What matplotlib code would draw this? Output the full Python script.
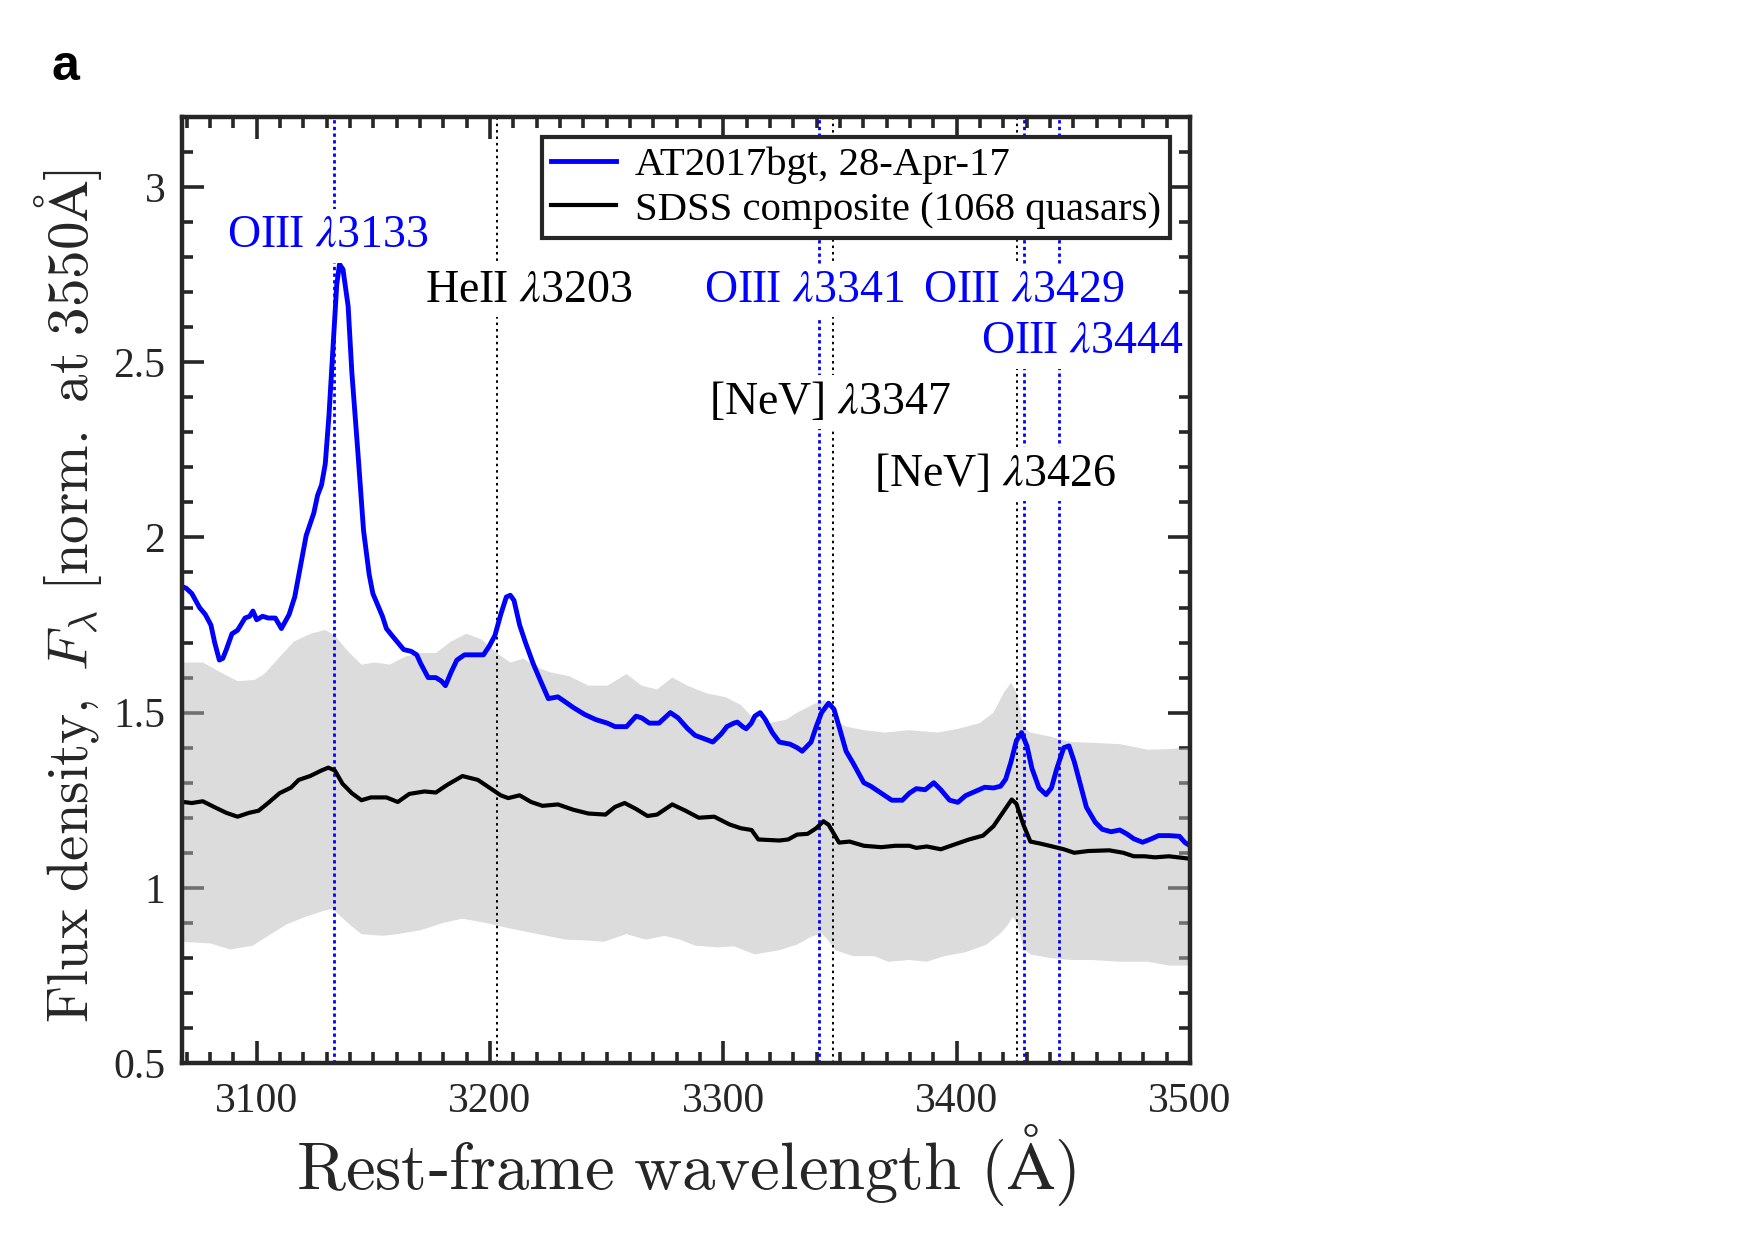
import numpy as np
import matplotlib
matplotlib.use("Agg")
import matplotlib.pyplot as plt
from matplotlib.ticker import MultipleLocator

# ---------------- data ----------------
blue_wl = [3068.0, 3069.8, 3072.2, 3075.5, 3078.0, 3080.4, 3082.0, 3084.0, 3085.5, 3087.0,
           3089.4, 3091.8, 3095.0, 3097.0, 3098.4, 3100.0, 3102.5, 3105.0, 3108.0, 3110.6,
           3113.9, 3116.3, 3118.8, 3121.2, 3124.5, 3126.1, 3127.8, 3129.4, 3131.0, 3132.7,
           3134.3, 3135.5, 3137.0, 3139.2, 3140.8, 3143.3, 3145.8, 3148.2, 3149.8, 3152.3,
           3153.9, 3155.6, 3158.0, 3160.5, 3163.0, 3166.2, 3168.6, 3170.3, 3173.5, 3176.8,
           3179.2, 3180.9, 3183.3, 3185.8, 3189.1, 3193.1, 3197.2, 3199.7, 3202.1, 3204.6,
           3207.0, 3208.7, 3210.3, 3212.7, 3215.2, 3218.5, 3221.7, 3225.0, 3229.1, 3232.4,
           3235.6, 3240.5, 3245.4, 3250.3, 3253.6, 3258.5, 3262.6, 3265.0, 3268.3, 3272.4,
           3277.3, 3280.6, 3284.6, 3287.9, 3292.0, 3295.5, 3299.2, 3301.5, 3304.5, 3306.0,
           3308.3, 3309.8, 3312.0, 3313.5, 3315.8, 3318.0, 3321.0, 3324.0, 3328.6, 3331.6,
           3333.8, 3335.3, 3337.6, 3339.8, 3342.1, 3345.1, 3347.4, 3349.6, 3352.6, 3355.6,
           3360.2, 3363.2, 3367.7, 3372.2, 3376.7, 3379.7, 3382.7, 3386.5, 3390.2, 3393.2,
           3397.0, 3400.5, 3403.8, 3408.3, 3412.0, 3415.8, 3418.8, 3421.0, 3423.3, 3425.6,
           3427.8, 3430.1, 3432.3, 3435.3, 3438.3, 3440.6, 3442.9, 3445.9, 3448.1, 3450.4,
           3453.4, 3455.6, 3459.4, 3462.4, 3466.2, 3469.9, 3472.9, 3475.9, 3479.7, 3483.5,
           3486.5, 3491.0, 3495.5, 3497.7, 3500.0]
blue_flux = [1.86, 1.855, 1.84, 1.80, 1.78, 1.75, 1.70, 1.65, 1.655, 1.68,
             1.725, 1.735, 1.77, 1.775, 1.79, 1.765, 1.775, 1.77, 1.77, 1.74,
             1.78, 1.83, 1.92, 2.005, 2.07, 2.12, 2.15, 2.21, 2.35, 2.54,
             2.72, 2.78, 2.765, 2.66, 2.47, 2.25, 2.02, 1.895, 1.84, 1.80,
             1.775, 1.74, 1.72, 1.70, 1.68, 1.675, 1.665, 1.64, 1.60, 1.60,
             1.59, 1.577, 1.615, 1.65, 1.665, 1.665, 1.665, 1.69, 1.72, 1.78,
             1.83, 1.835, 1.82, 1.75, 1.70, 1.64, 1.59, 1.54, 1.545, 1.53,
             1.515, 1.495, 1.48, 1.47, 1.46, 1.46, 1.49, 1.485, 1.47, 1.47,
             1.50, 1.485, 1.455, 1.435, 1.425, 1.416, 1.44, 1.46, 1.47, 1.473,
             1.46, 1.454, 1.47, 1.49, 1.50, 1.48, 1.443, 1.416, 1.41, 1.40,
             1.39, 1.40, 1.416, 1.46, 1.50, 1.527, 1.51, 1.46, 1.39, 1.356,
             1.30, 1.29, 1.27, 1.25, 1.25, 1.27, 1.283, 1.28, 1.30, 1.28,
             1.25, 1.244, 1.263, 1.276, 1.287, 1.285, 1.29, 1.31, 1.36, 1.42,
             1.443, 1.405, 1.34, 1.285, 1.266, 1.285, 1.34, 1.40, 1.405, 1.36,
             1.285, 1.23, 1.187, 1.167, 1.16, 1.165, 1.154, 1.14, 1.13, 1.14,
             1.149, 1.149, 1.147, 1.13, 1.12]

sdss_wl = [3068.0, 3069.8, 3072.2, 3076.9, 3082.0, 3087.0, 3091.8, 3096.7, 3100.8, 3104.9,
           3109.8, 3114.7, 3118.0, 3122.9, 3127.8, 3130.7, 3133.5, 3136.8, 3140.8, 3144.9,
           3149.0, 3155.6, 3160.5, 3165.4, 3171.9, 3176.8, 3181.7, 3188.2, 3194.8, 3199.7,
           3204.6, 3207.8, 3212.7, 3217.6, 3222.5, 3229.1, 3235.6, 3242.2, 3249.5, 3253.6,
           3257.7, 3262.6, 3267.5, 3271.6, 3278.1, 3283.8, 3289.5, 3296.1, 3302.6, 3307.5,
           3312.1, 3315.0, 3324.0, 3327.8, 3331.6, 3336.1, 3339.8, 3342.9, 3345.1, 3349.6,
           3354.1, 3360.2, 3367.7, 3373.7, 3379.7, 3382.7, 3387.2, 3393.2, 3399.2, 3405.3,
           3411.3, 3415.8, 3420.3, 3423.6, 3425.6, 3428.6, 3431.6, 3435.3, 3439.8, 3445.9,
           3450.4, 3456.4, 3465.4, 3471.4, 3475.9, 3480.5, 3485.0, 3491.0, 3500.0]
sdss_flux = [1.245, 1.244, 1.242, 1.247, 1.23, 1.214, 1.203, 1.214, 1.22, 1.242,
             1.27, 1.286, 1.308, 1.319, 1.335, 1.343, 1.335, 1.297, 1.27, 1.25,
             1.258, 1.258, 1.245, 1.268, 1.275, 1.272, 1.294, 1.319, 1.308, 1.286,
             1.264, 1.256, 1.264, 1.245, 1.234, 1.238, 1.223, 1.212, 1.209, 1.231,
             1.242, 1.225, 1.205, 1.209, 1.238, 1.22, 1.20, 1.203, 1.181, 1.17,
             1.165, 1.138, 1.135, 1.138, 1.152, 1.154, 1.17, 1.19, 1.18, 1.129,
             1.132, 1.12, 1.116, 1.12, 1.12, 1.114, 1.118, 1.11, 1.124, 1.138,
             1.149, 1.176, 1.22, 1.252, 1.24, 1.18, 1.132, 1.127, 1.12, 1.11,
             1.10, 1.105, 1.107, 1.10, 1.09, 1.09, 1.087, 1.09, 1.083]

band_hi_wl = [3068.0, 3077.0, 3084.5, 3091.8, 3099.0, 3103.3, 3110.0, 3116.0, 3123.0, 3129.4,
              3133.5, 3139.0, 3144.9, 3150.7, 3157.0, 3163.7, 3170.3, 3176.8, 3183.3, 3189.9,
              3196.4, 3203.0, 3208.7, 3214.4, 3219.3, 3225.8, 3234.0, 3242.2, 3250.3, 3258.5,
              3265.0, 3271.6, 3278.1, 3284.6, 3292.8, 3301.0, 3307.5, 3312.0, 3319.5, 3327.0,
              3331.6, 3334.6, 3339.0, 3343.5, 3348.1, 3352.6, 3360.2, 3369.2, 3379.7, 3391.7,
              3400.8, 3409.8, 3415.8, 3420.3, 3423.3, 3425.6, 3428.6, 3431.6, 3439.8, 3448.9,
              3457.9, 3469.9, 3482.0, 3491.0, 3500.0]
band_hi = [1.643, 1.643, 1.615, 1.59, 1.593, 1.61, 1.66, 1.703, 1.725, 1.736,
           1.72, 1.676, 1.637, 1.643, 1.637, 1.66, 1.67, 1.67, 1.703, 1.725,
           1.709, 1.67, 1.643, 1.654, 1.632, 1.615, 1.604, 1.577, 1.577, 1.61,
           1.577, 1.566, 1.60, 1.577, 1.555, 1.544, 1.522, 1.49, 1.47, 1.48,
           1.50, 1.51, 1.525, 1.536, 1.476, 1.46, 1.45, 1.443, 1.45, 1.443,
           1.454, 1.47, 1.50, 1.558, 1.585, 1.558, 1.46, 1.443, 1.432, 1.416,
           1.414, 1.41, 1.394, 1.396, 1.40]

band_lo_wl = [3068.0, 3080.4, 3088.6, 3098.4, 3104.9, 3113.0, 3121.2, 3128.6, 3132.7, 3136.0,
              3140.8, 3144.9, 3153.9, 3160.5, 3170.3, 3180.0, 3188.2, 3198.0, 3207.8, 3216.0,
              3224.2, 3232.4, 3240.5, 3248.7, 3258.5, 3266.7, 3274.8, 3281.4, 3287.9, 3297.7,
              3304.5, 3313.5, 3324.0, 3331.6, 3337.6, 3342.1, 3344.4, 3348.1, 3355.6, 3364.7,
              3370.7, 3379.7, 3387.2, 3394.7, 3403.8, 3412.8, 3418.8, 3421.8, 3424.1, 3426.3,
              3428.6, 3431.6, 3439.8, 3448.9, 3457.9, 3469.9, 3482.0, 3491.0, 3500.0]
band_lo = [0.846, 0.841, 0.824, 0.835, 0.863, 0.896, 0.918, 0.934, 0.94, 0.918,
           0.89, 0.868, 0.863, 0.868, 0.879, 0.90, 0.912, 0.90, 0.885, 0.874,
           0.863, 0.852, 0.85, 0.846, 0.868, 0.852, 0.863, 0.852, 0.835, 0.83,
           0.833, 0.81, 0.822, 0.838, 0.86, 0.87, 0.854, 0.822, 0.805, 0.805,
           0.789, 0.794, 0.789, 0.805, 0.816, 0.838, 0.87, 0.893, 0.917, 0.893,
           0.827, 0.81, 0.80, 0.794, 0.794, 0.789, 0.789, 0.778, 0.778]

line_wl = [3133, 3203, 3341, 3347, 3426, 3429, 3444]
line_color = ['blue', 'black', 'blue', 'black', 'black', 'blue', 'blue']
label_text = [r'OIII $\lambda$3133', r'HeII $\lambda$3203', r'OIII $\lambda$3341',
              r'[NeV] $\lambda$3347', r'[NeV] $\lambda$3426', r'OIII $\lambda$3429',
              r'OIII $\lambda$3444']
label_x = [3130.6, 3216.6, 3334.7, 3345.7, 3416.4, 3428.8, 3453.8]
label_y = [2.86, 2.705, 2.705, 2.386, 2.181, 2.705, 2.558]

x_ticks = [3100, 3200, 3300, 3400, 3500]
y_ticks = [0.5, 1, 1.5, 2, 2.5, 3]
y_ticklabels = ['0.5', '1', '1.5', '2', '2.5', '3']

legend_labels = ['AT2017bgt, 28-Apr-17', 'SDSS composite (1068 quasars)']

# ---------------- style ----------------
plt.rcParams['font.family'] = ['Liberation Serif', 'DejaVu Serif']
plt.rcParams['mathtext.fontset'] = 'stix'
AX = '#262626'

W, H = 1755, 1240
fig = plt.figure(figsize=(W / 100, H / 100), dpi=100)
ax = fig.add_axes([182 / W, (H - 1063) / H, 1008 / W, 946 / H])

# band
poly_x = np.concatenate([band_hi_wl, band_lo_wl[::-1]])
poly_y = np.concatenate([band_hi, band_lo[::-1]])
ax.fill(poly_x, poly_y, facecolor=(0.73, 0.73, 0.73), alpha=0.5, edgecolor='none', zorder=1)

for wl, c in zip(line_wl, line_color):
    if c == 'blue':
        ax.axvline(wl, color='blue', lw=2.0, ls=(0, (1.2, 1.2)), zorder=2)
    else:
        ax.axvline(wl, color='black', lw=1.4, ls=(0, (1.3, 2.0)), zorder=2)

l1, = ax.plot(blue_wl, blue_flux, color='blue', lw=3.5, zorder=3)
l2, = ax.plot(sdss_wl, sdss_flux, color='black', lw=3.0, zorder=3)

for t, x, y, c in zip(label_text, label_x, label_y, line_color):
    ax.text(x, y, t, color=c, fontsize=33, ha='center', va='center', zorder=6,
            bbox=dict(boxstyle='square,pad=0.12', facecolor='white', edgecolor='none'))

ax.set_xlim(3068, 3500)
ax.set_ylim(0.5, 3.2)
ax.set_xticks(x_ticks)
ax.set_yticks(y_ticks)
ax.set_yticklabels(y_ticklabels)
ax.xaxis.set_minor_locator(MultipleLocator(10))
ax.yaxis.set_minor_locator(MultipleLocator(0.1))
ax.tick_params(which='both', direction='in', top=True, right=True, color=AX,
               labelcolor=AX, labelsize=30)
ax.tick_params(axis='x', pad=14)
ax.tick_params(axis='y', pad=12)
ax.tick_params(which='major', length=16, width=2.6)
ax.tick_params(which='minor', length=8, width=2.6)
ax.set_axisbelow(True)
for s in ax.spines.values():
    s.set_linewidth(3.2)
    s.set_color(AX)
    s.set_zorder(10)

leg = ax.legend([l1, l2], legend_labels, loc='upper right', fontsize=29.3,
                handlelength=1.6, handletextpad=0.45, labelspacing=0.18,
                borderpad=0.22, borderaxespad=0.5, fancybox=False, framealpha=1)
leg.get_frame().set_edgecolor(AX)
leg.get_frame().set_linewidth(3.0)
leg.set_zorder(8)

ax.set_xlabel(r'$\mathrm{Rest}$-$\mathrm{frame\ wavelength\ (\AA)}$', fontsize=48,
              math_fontfamily='cm', color=AX, va='center')
ax.xaxis.set_label_coords(0.5, -0.108)
ax.set_ylabel(r'$\mathrm{Flux\ density,}\ F_\lambda\ \mathrm{[norm.\ at\ 3550\AA]}$',
              fontsize=41, math_fontfamily='cm', color=AX, va='center')
ax.yaxis.set_label_coords(-0.113, 0.494)

fig.text(65 / W, 1 - 67 / H, 'a', fontsize=36, fontweight='bold',
         family=['Liberation Sans', 'DejaVu Sans'], ha='center', va='center')

fig.savefig('out.png', dpi=100, facecolor='white')
